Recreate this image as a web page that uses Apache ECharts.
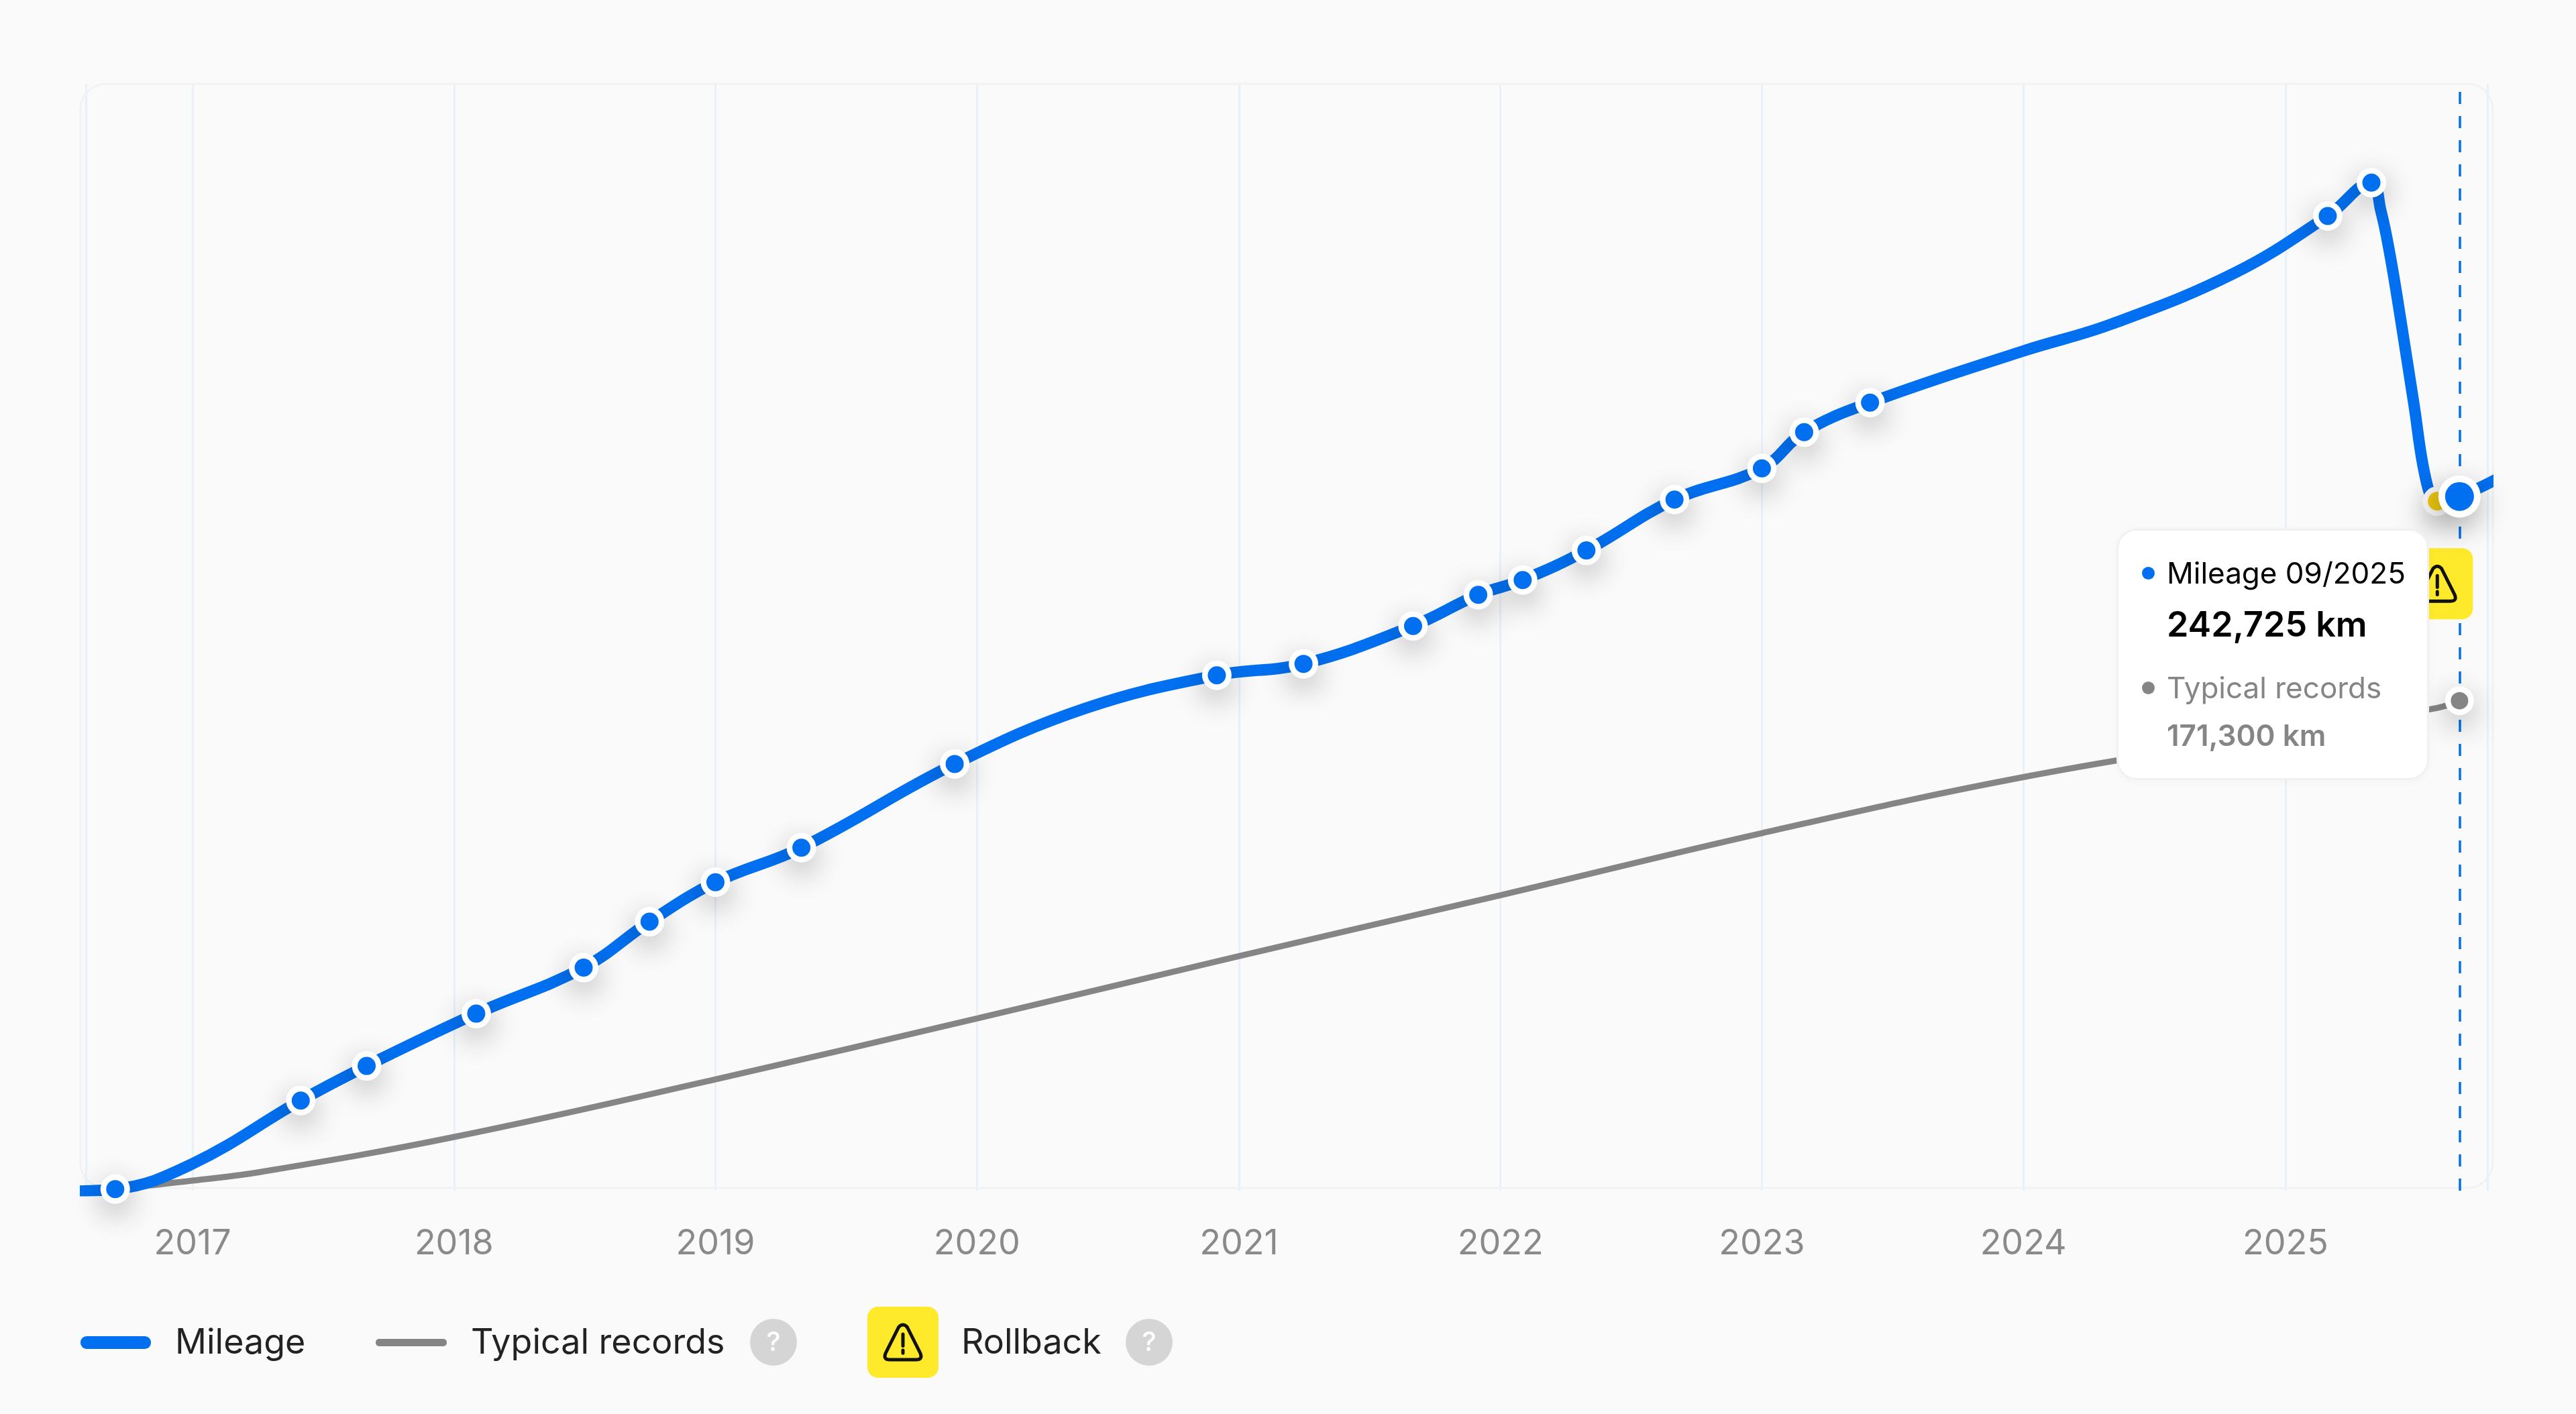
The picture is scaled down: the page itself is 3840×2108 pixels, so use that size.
<!DOCTYPE html>
<html>
<head>
<meta charset="utf-8">
<style>
  html, body { margin: 0; padding: 0; background: #fafafa; }
  #chart-container { width: 3840px; height: 2108px; }
</style>
<script src="https://cdn.jsdelivr.net/npm/echarts@6/dist/echarts.min.js"></script>
</head>
<body>
<div id="chart-container"></div>
<script>
const mileageDates = ['2016-07-01', '2016-09-15', '2017-01-01', '2017-06-01', '2017-09-01', '2018-02-01', '2018-07-01', '2018-10-01', '2019-01-01', '2019-05-01', '2019-12-01', '2020-06-01', '2020-12-01', '2021-04-01', '2021-09-01', '2021-12-01', '2022-02-01', '2022-05-01', '2022-09-01', '2023-01-01', '2023-03-01', '2023-06-01', '2024-01-01', '2024-05-03', '2024-10-23', '2025-03-01', '2025-05-01', '2025-05-14', '2025-05-27', '2025-06-11', '2025-06-29', '2025-07-17', '2025-08-01', '2025-09-01', '2025-11-01'];
const mileageKm = [-250, 540, 9400, 31500, 43600, 61900, 77970, 94040, 107850, 119900, 149190, 168700, 180200, 184200, 197440, 208350, 213500, 223850, 241650, 252550, 265200, 275540, 293600, 303000, 321000, 340800, 352450, 342840, 327130, 304380, 275540, 247630, 241070, 242725, 250000];
// 1 = a service record sits on that point
const mileageRecord = [0, 1, 0, 1, 1, 1, 1, 1, 1, 1, 1, 0, 1, 1, 1, 1, 1, 1, 1, 1, 1, 1, 0, 0, 0, 1, 1, 0, 0, 0, 0, 0, 0, 0, 0];

const typicalDates = ['2016-09-15', '2017-01-01', '2017-04-07', '2018-01-01', '2019-01-01', '2020-01-01', '2021-01-01', '2022-01-01', '2023-01-01', '2024-01-01', '2025-01-01', '2025-08-01', '2025-09-01'];
const typicalKm = [540, 3500, 6570, 18760, 38900, 60200, 82000, 103300, 125000, 144600, 160000, 168800, 171300];

const rollbackDates = ['2025-08-01'];
const rollbackKm = [241070];

const currentDate = ['2025-09-01'];
const currentKm = [242725];
const currentTypicalKm = [171300];
const currentLabel = '09/2025';

const legendMileage = 'Mileage';
const legendTypical = 'Typical records';
const legendRollback = 'Rollback';

const BLUE = '#0070f0';
const GRAY = '#858585';
const YELLOW = '#ffe92b';
const FONT = 'Inter, "Noto Sans", sans-serif';
// white halo carries the shadow, the coloured dot sits on top of it in its own series
const HALO = { color: '#fff', shadowBlur: 44, shadowOffsetY: 14, shadowColor: 'rgba(0,0,0,0.3)' };

const WARN_PATH = 'M22 5 Q28 -1 34 5 L53 41 Q57 50 47 50 L9 50 Q-1 50 3 41 Z M28 15 L28 31 M28 37 L28 41';

function warnBox(cx, cy) {
  return [
    { type: 'rect', shape: { x: cx - 53, y: cy - 53, width: 106, height: 106, r: 16 }, style: { fill: YELLOW } },
    {
      type: 'path',
      shape: { pathData: WARN_PATH, x: cx - 27, y: cy - 26, width: 54, height: 52, layout: 'cover' },
      style: { fill: 'none', stroke: '#111', lineWidth: 5, lineCap: 'round' }
    }
  ];
}

function legendText(text, x) {
  return { type: 'text', style: { text: text, x: x, y: 2002, fill: '#222', font: '400 52px ' + FONT, verticalAlign: 'middle' } };
}

function helpBadge(cx) {
  return [
    { type: 'circle', shape: { cx: cx, cy: 2001, r: 35 }, style: { fill: '#d5d5d5' } },
    { type: 'text', style: { text: '?', x: cx, y: 2002, fill: '#fff', font: '500 40px ' + FONT, align: 'center', verticalAlign: 'middle' } }
  ];
}

function dots(z, size, color, data) {
  return { type: 'scatter', z: z, silent: true, symbolSize: size, itemStyle: { color: color, opacity: 1 }, emphasis: { disabled: true }, tooltip: { show: false }, data: data };
}

const recordPoints = mileageDates
  .map((d, i) => [d, mileageKm[i]])
  .filter((p, i) => mileageRecord[i]);

const chart = echarts.init(document.getElementById('chart-container'));

chart.setOption({
  animation: false,
  backgroundColor: '#fafafa',
  grid: { left: 128, right: 132, top: 125, bottom: 333 },
  tooltip: {
    trigger: 'item',
    triggerOn: 'none',
    alwaysShowContent: true,
    transitionDuration: 0,
    padding: 0,
    borderWidth: 3,
    borderColor: '#f1f1f1',
    backgroundColor: '#fff',
    borderRadius: 30,
    extraCssText: 'box-shadow:0 2px 12px rgba(0,0,0,0.03);',
    position: function () { return [3155, 788]; },
    formatter: function () {
      const row = (y, h, color, weight, size, text) =>
        `<div style="position:absolute;left:72px;top:${y}px;line-height:${h}px;color:${color};font-weight:${weight};font-size:${size}px;white-space:nowrap;">${text}</div>`;
      const dot = (y, color) =>
        `<div style="position:absolute;left:35px;top:${y}px;width:19px;height:19px;border-radius:50%;background:${color};"></div>`;
      return `<div style="position:relative;width:460px;height:369px;font-family:${FONT.replace(/"/g, "'")};">`
        + dot(54, BLUE)
        + row(33, 60, '#000', 400, 44, 'Mileage ' + currentLabel)
        + row(107, 66, '#000', 600, 52, currentKm[0].toLocaleString('en-US') + ' km')
        + dot(225, GRAY)
        + row(204, 60, GRAY, 400, 44, legendTypical)
        + row(275, 60, GRAY, 600, 44, currentTypicalKm[0].toLocaleString('en-US') + ' km')
        + '</div>';
    }
  },
  xAxis: {
    type: 'time',
    min: '2016-08-05',
    max: '2025-10-10',
    minInterval: 365 * 24 * 3600 * 1000,
    maxInterval: 366 * 24 * 3600 * 1000,
    axisLine: { show: false },
    axisTick: { show: false },
    axisLabel: {
      showMinLabel: false,
      showMaxLabel: false,
      color: '#8a8a8a',
      fontFamily: FONT,
      fontSize: 52,
      margin: 53,
      formatter: '{yyyy}'
    },
    splitLine: { show: true, lineStyle: { color: '#e9f0f9', width: 3 } }
  },
  yAxis: {
    type: 'value',
    min: 0,
    max: 387000,
    show: false,
    splitLine: { show: false }
  },
  series: [
    {
      // frame and legend, drawn in pixels
      type: 'custom',
      coordinateSystem: 'none',
      silent: true,
      z: 0,
      tooltip: { show: false },
      data: [0],
      renderItem: function () {
        return {
          type: 'group',
          children: [
            { type: 'rect', shape: { x: 120, y: 125, width: 3596, height: 1646, r: 38 }, style: { fill: 'none', stroke: '#f1f2f3', lineWidth: 3 } },
            { type: 'rect', shape: { x: 120, y: 1992, width: 105, height: 19, r: 9 }, style: { fill: BLUE } },
            legendText(legendMileage, 261),
            { type: 'rect', shape: { x: 560, y: 1996, width: 106, height: 11, r: 5 }, style: { fill: GRAY } },
            legendText(legendTypical, 702),
            ...helpBadge(1153),
            ...warnBox(1346, 2001),
            legendText(legendRollback, 1433),
            ...helpBadge(1713)
          ]
        };
      }
    },
    {
      name: legendTypical,
      type: 'line',
      z: 2,
      smooth: 0.4,
      showAllSymbol: true,
      lineStyle: { color: GRAY, width: 9 },
      emphasis: { disabled: true },
      data: typicalDates.map((d, i) => ({
        value: [d, typicalKm[i]],
        symbol: d === currentDate[0] ? 'circle' : 'none',
        symbolSize: 43,
        itemStyle: HALO
      }))
    },
    dots(3, 26, GRAY, currentDate.map((d, i) => [d, currentTypicalKm[i]])),
    {
      name: legendMileage,
      type: 'line',
      z: 4,
      smooth: 0.4,
      showAllSymbol: true,
      lineStyle: { color: BLUE, width: 17 },
      emphasis: { disabled: true },
      data: mileageDates.map((d, i) => ({
        value: [d, mileageKm[i]],
        symbol: mileageRecord[i] ? 'circle' : 'none',
        symbolSize: 44,
        itemStyle: HALO
      })),
      markLine: {
        z: 1,
        silent: true,
        symbol: 'none',
        label: { show: false },
        lineStyle: { color: BLUE, width: 3.5, type: [18, 18] },
        data: [{ xAxis: currentDate[0] }]
      }
    },
    dots(5, 27, BLUE, recordPoints),
    {
      name: legendRollback,
      type: 'custom',
      z: 6,
      silent: true,
      tooltip: { show: false },
      clip: false,
      encode: { x: 0, y: 1 },
      data: rollbackDates.map((d, i) => [d, rollbackKm[i]]),
      renderItem: function (params, api) {
        const p = api.coord([api.value(0), api.value(1)]);
        return {
          type: 'group',
          children: [
            { type: 'circle', shape: { cx: p[0], cy: p[1], r: 22 }, style: { fill: '#f4f4f4', shadowBlur: HALO.shadowBlur, shadowOffsetY: HALO.shadowOffsetY, shadowColor: HALO.shadowColor } },
            { type: 'circle', shape: { cx: p[0], cy: p[1], r: 14 }, style: { fill: '#e9c30e' } },
            ...warnBox(p[0], p[1] + 123)
          ]
        };
      }
    },
    {
      name: 'Current',
      type: 'scatter',
      z: 7,
      symbolSize: 63,
      emphasis: { disabled: true },
      itemStyle: { opacity: 1, ...HALO },
      data: currentDate.map((d, i) => [d, currentKm[i]])
    },
    dots(8, 43, BLUE, currentDate.map((d, i) => [d, currentKm[i]]))
  ]
});

chart.dispatchAction({ type: 'showTip', seriesIndex: 6, dataIndex: 0 });
</script>
</body>
</html>
